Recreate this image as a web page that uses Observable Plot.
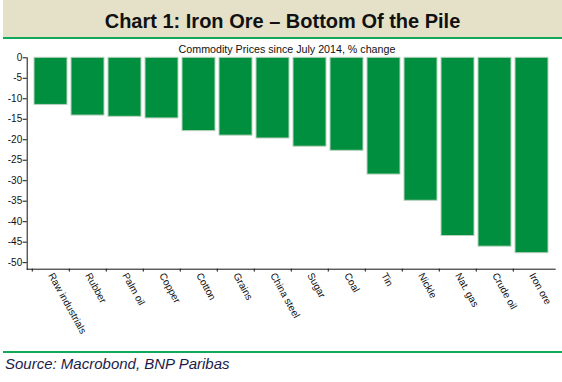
<!DOCTYPE html>
<html>
<head>
<meta charset="utf-8">
<script src="https://cdn.jsdelivr.net/npm/d3@7"></script>
<script src="https://cdn.jsdelivr.net/npm/@observablehq/plot@0.6"></script>
<style>
  html, body { margin: 0; padding: 0; background: #fff; }
  body { width: 562px; height: 382px; position: relative; overflow: hidden;
         font-family: Arial, "Liberation Sans", sans-serif; }
  #header { position: absolute; left: 3px; top: 0; width: 559px; height: 37px;
            background: #E5E1C9; text-align: center; font-weight: bold;
            font-size: 20px; line-height: 42px; color: #111; }
  #hline { position: absolute; left: 3px; top: 37px; width: 559px; height: 2px; background: #12A85A; }
  #subtitle { position: absolute; left: 0; top: 42.8px; width: 574px; text-align: center;
              font-size: 10.7px; line-height: 12px; color: #111; }
  #chart { position: absolute; left: 0; top: 39px; }
  #fline { position: absolute; left: 3px; top: 351px; width: 559px; height: 2px; background: #12A85A; }
  #source { position: absolute; left: 5px; top: 354.8px; font-style: italic; font-size: 15px;
            line-height: 18px; color: #1c1c4a; }
</style>
</head>
<body>
<div id="header">Chart 1: Iron Ore – Bottom Of the Pile</div>
<div id="hline"></div>
<div id="subtitle">Commodity Prices since July 2014, % change</div>
<div id="chart"></div>
<div id="fline"></div>
<div id="source">Source: Macrobond, BNP Paribas</div>
<script>
const categories = ["Raw industrials", "Rubber", "Palm oil", "Copper", "Cotton", "Grains",
  "China steel", "Sugar", "Coal", "Tin", "Nickle", "Nat. gas", "Crude oil", "Iron ore"];
const values = [-11.5, -14.1, -14.4, -14.8, -17.9, -19.0, -19.7, -21.7, -22.7, -28.5,
  -34.9, -43.5, -46.1, -47.7];
const yTicks = [-50, -45, -40, -35, -30, -25, -20, -15, -10, -5, 0];
const yDomain = [-51.6, 0];

const data = categories.map((name, i) => ({name, value: values[i]}));

const W = 562, H = 312;
const mL = 26.7, mR = 7.3;
const step = (W - mL - mR) / (categories.length - 0.1 + 0.2);

const chart = Plot.plot({
  width: W,
  height: H,
  marginTop: 18.3,
  marginBottom: 82.3,
  marginLeft: mL,
  marginRight: mR,
  style: {fontFamily: 'Arial, "Liberation Sans", sans-serif', fontSize: "10px", color: "#111", background: "transparent"},
  x: {domain: categories, paddingInner: 0.1, paddingOuter: 0.1, axis: null},
  y: {domain: yDomain, axis: null},
  marks: [
    Plot.barY(data, {x: "name", y: "value", fill: "#008F3E", stroke: "#b9d3bd", strokeWidth: 1}),
    Plot.frame({anchor: "left", stroke: "#111"}),
    Plot.frame({anchor: "bottom", stroke: "#111"}),
    Plot.axisY({ticks: yTicks, tickFormat: d => String(d), tickSize: 4, tickPadding: 1, fontSize: 10, stroke: "#111", label: null}),
    Plot.ruleX(categories, {x: d => d, y1: yDomain[0], y2: yDomain[0] - 0.7, dx: -step / 2, stroke: "#111"}),
    Plot.text(data, {x: "name", text: "name", frameAnchor: "bottom", rotate: 61, textAnchor: "start",
      dx: -3, dy: 6, fontSize: 10, fill: "#111"})
  ]
});
document.getElementById("chart").appendChild(chart);
</script>
</body>
</html>
